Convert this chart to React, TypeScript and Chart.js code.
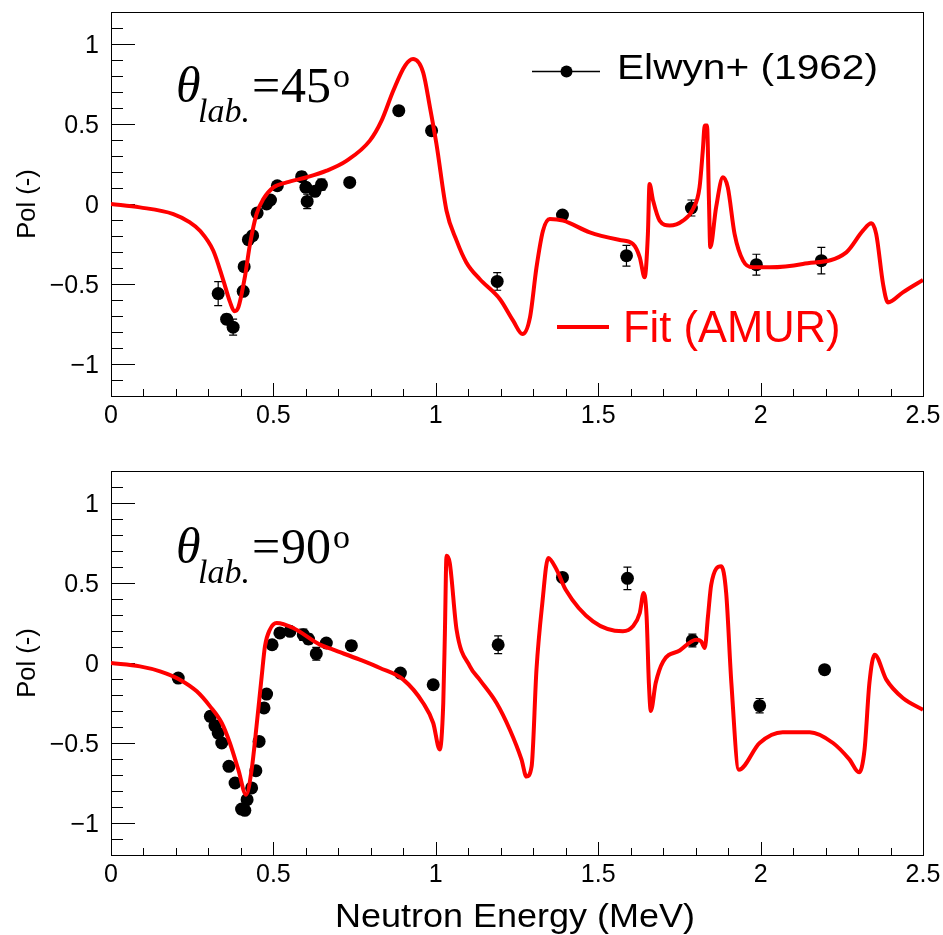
import React, { useEffect, useRef } from 'react';
import { Chart, registerables } from 'chart.js';

Chart.register(...registerables);

// ---- axes ----
const X_MIN = 0;
const X_MAX = 2.5;
const Y_MIN = -1.2;
const Y_MAX = 1.2;
const X_TICKS = [0, 0.5, 1, 1.5, 2, 2.5];
const X_TICK_LABELS = ['0', '0.5', '1', '1.5', '2', '2.5'];
const Y_TICKS = [-1, -0.5, 0, 0.5, 1];
const Y_TICK_LABELS = ['\u22121', '\u22120.5', '0', '0.5', '1'];
const MINOR_STEP = 0.1;

const X_TITLE = 'Neutron Energy (MeV)';
const Y_TITLE = 'Pol (-)';
const DATA_LABEL = 'Elwyn+ (1962)';
const FIT_LABEL = 'Fit (AMUR)';

// ---- theta_lab = 45 deg: measured polarization ----
const E45 = [0.330, 0.356, 0.376, 0.407, 0.410, 0.423, 0.436, 0.450, 0.479, 0.491, 0.512, 0.587, 0.600, 0.604, 0.628, 0.648, 0.735, 0.886, 0.987, 1.189, 1.390, 1.587, 1.787, 1.987, 2.187];
const P45 = [-0.560, -0.720, -0.770, -0.546, -0.392, -0.223, -0.198, -0.056, 0.000, 0.025, 0.114, 0.171, 0.104, 0.016, 0.079, 0.121, 0.135, 0.583, 0.458, -0.484, -0.069, -0.323, -0.025, -0.379, -0.354];
const DP45 = [0.075, 0.030, 0.050, 0.020, 0.020, 0.020, 0.020, 0.020, 0.020, 0.020, 0.020, 0.030, 0.030, 0.045, 0.030, 0.035, 0.020, 0.020, 0.020, 0.055, 0.020, 0.065, 0.050, 0.065, 0.083];

// ---- theta_lab = 45 deg: AMUR fit ----
const FIT45_E = [0, 0.089, 0.192, 0.243, 0.274, 0.315, 0.346, 0.366, 0.380, 0.392, 0.412, 0.428, 0.448, 0.469, 0.500, 0.541, 0.603, 0.664, 0.726, 0.797, 0.833, 0.869, 0.905, 0.930, 0.961, 0.982, 1.002, 1.033, 1.064, 1.094, 1.135, 1.197, 1.238, 1.267, 1.290, 1.310, 1.330, 1.351, 1.392, 1.474, 1.566, 1.607, 1.628, 1.643, 1.653, 1.658, 1.669, 1.689, 1.720, 1.761, 1.792, 1.812, 1.822, 1.828, 1.835, 1.841, 1.845, 1.863, 1.884, 1.899, 1.920, 1.946, 1.976, 2.028, 2.130, 2.264, 2.315, 2.341, 2.356, 2.377, 2.392, 2.438, 2.500];
const FIT45_P = [0, -0.021, -0.063, -0.115, -0.167, -0.292, -0.479, -0.610, -0.670, -0.646, -0.458, -0.250, -0.063, 0.031, 0.104, 0.135, 0.167, 0.208, 0.271, 0.396, 0.521, 0.708, 0.864, 0.906, 0.823, 0.604, 0.375, -0.042, -0.229, -0.365, -0.469, -0.594, -0.729, -0.813, -0.708, -0.396, -0.167, -0.094, -0.104, -0.177, -0.225, -0.250, -0.333, -0.458, -0.188, 0.125, 0.021, -0.104, -0.135, -0.104, -0.031, 0.104, 0.333, 0.490, 0.490, 0.021, -0.271, -0.021, 0.167, 0.104, -0.188, -0.354, -0.396, -0.396, -0.375, -0.302, -0.167, -0.121, -0.188, -0.500, -0.615, -0.552, -0.475];

// ---- theta_lab = 90 deg: measured polarization ----
const E90 = [0.207, 0.306, 0.320, 0.330, 0.341, 0.363, 0.382, 0.402, 0.412, 0.419, 0.433, 0.446, 0.456, 0.471, 0.479, 0.496, 0.520, 0.551, 0.592, 0.608, 0.632, 0.663, 0.740, 0.891, 0.992, 1.192, 1.390, 1.590, 1.790, 1.997, 2.197];
const P90 = [-0.094, -0.333, -0.392, -0.438, -0.500, -0.646, -0.750, -0.913, -0.921, -0.854, -0.781, -0.673, -0.490, -0.281, -0.194, 0.114, 0.188, 0.198, 0.177, 0.150, 0.058, 0.125, 0.108, -0.063, -0.136, 0.114, 0.535, 0.529, 0.141, -0.267, -0.042];
const DP90 = [0.020, 0.030, 0.020, 0.020, 0.020, 0.020, 0.020, 0.020, 0.020, 0.020, 0.020, 0.020, 0.020, 0.020, 0.020, 0.020, 0.020, 0.020, 0.035, 0.030, 0.040, 0.020, 0.030, 0.020, 0.020, 0.055, 0.025, 0.070, 0.040, 0.045, 0.020];

// ---- theta_lab = 90 deg: AMUR fit ----
const FIT90_E = [0, 0.089, 0.151, 0.212, 0.264, 0.305, 0.341, 0.366, 0.392, 0.416, 0.433, 0.448, 0.464, 0.474, 0.489, 0.510, 0.561, 0.643, 0.684, 0.766, 0.828, 0.900, 0.961, 0.992, 1.012, 1.023, 1.028, 1.033, 1.043, 1.064, 1.105, 1.135, 1.187, 1.228, 1.264, 1.279, 1.295, 1.310, 1.328, 1.346, 1.372, 1.400, 1.484, 1.576, 1.607, 1.628, 1.640, 1.649, 1.656, 1.662, 1.677, 1.700, 1.751, 1.802, 1.817, 1.828, 1.838, 1.848, 1.879, 1.894, 1.910, 1.933, 1.997, 2.068, 2.151, 2.223, 2.274, 2.303, 2.320, 2.335, 2.351, 2.387, 2.438, 2.500];
const FIT90_P = [0, -0.021, -0.052, -0.104, -0.177, -0.271, -0.375, -0.500, -0.667, -0.823, -0.667, -0.396, -0.083, 0.104, 0.208, 0.250, 0.219, 0.115, 0.083, 0.021, -0.031, -0.104, -0.250, -0.375, -0.540, -0.250, 0.188, 0.670, 0.625, 0.208, -0.021, -0.104, -0.250, -0.417, -0.604, -0.710, -0.646, -0.040, 0.375, 0.656, 0.583, 0.458, 0.260, 0.198, 0.229, 0.313, 0.438, 0.292, -0.125, -0.300, -0.125, 0.010, 0.078, 0.146, 0.135, 0.094, 0.292, 0.490, 0.604, 0.438, -0.125, -0.667, -0.500, -0.433, -0.433, -0.500, -0.604, -0.683, -0.542, -0.125, 0.052, -0.104, -0.219, -0.292];

const SANS = '"Liberation Sans", Arial, Helvetica, sans-serif';
const SERIF = '"Liberation Serif", "Times New Roman", serif';
const RED = '#ff0000';

const pts = (xs: number[], ys: number[]) => xs.map((x, i) => ({ x, y: ys[i] }));

// draws text squeezed/stretched horizontally to a given width
function fillStretched(ctx: CanvasRenderingContext2D, text: string, x: number, y: number, width: number, align: CanvasTextAlign) {
  const natural = ctx.measureText(text).width;
  ctx.save();
  ctx.translate(x, y);
  ctx.scale(width / natural, 1);
  ctx.textAlign = align;
  ctx.fillText(text, 0, 0);
  ctx.restore();
}

interface PanelProps {
  top: number;
  height: number;
  padBottom: number;
  angle: string;
  labelBase: number;
  E: number[];
  P: number[];
  DP: number[];
  fitE: number[];
  fitP: number[];
  legend: boolean;
  xTitle: boolean;
}

function Panel(props: PanelProps) {
  const ref = useRef<HTMLCanvasElement | null>(null);

  useEffect(() => {
    const canvas = ref.current;
    if (!canvas) return;
    const { E, P, DP, fitE, fitP, angle, labelBase, legend, xTitle } = props;

    // ROOT-style frame with inward ticks, error bars and annotations
    const frame = {
      id: 'rootFrame',
      beforeDatasetsDraw(chart: any) {
        const { ctx, chartArea: a } = chart;
        const xs = chart.scales.x;
        const ys = chart.scales.y;
        ctx.save();
        ctx.strokeStyle = '#000';
        ctx.lineWidth = 1;
        ctx.strokeRect(Math.round(a.left) + 0.5, Math.round(a.top) + 0.5, Math.round(a.right - a.left), Math.round(a.bottom - a.top));
        ctx.beginPath();
        for (let k = -11; k <= 11; k++) {
          const v = k * MINOR_STEP;
          const major = k % 5 === 0;
          const py = Math.round(ys.getPixelForValue(v)) + 0.5;
          ctx.moveTo(a.left, py);
          ctx.lineTo(a.left + (major ? 24 : 12), py);
        }
        for (let k = 1; k <= 24; k++) {
          const v = k * MINOR_STEP;
          const major = k % 5 === 0;
          const px = Math.round(xs.getPixelForValue(v)) + 0.5;
          ctx.moveTo(px, a.bottom);
          ctx.lineTo(px, a.bottom - (major ? 13 : 7));
        }
        ctx.stroke();

        // vertical error bars with end caps
        ctx.lineWidth = 1.2;
        ctx.beginPath();
        for (let i = 0; i < E.length; i++) {
          const px = xs.getPixelForValue(E[i]);
          const y1 = ys.getPixelForValue(P[i] + DP[i]);
          const y2 = ys.getPixelForValue(P[i] - DP[i]);
          ctx.moveTo(px, y1);
          ctx.lineTo(px, y2);
          ctx.moveTo(px - 4, y1);
          ctx.lineTo(px + 4, y1);
          ctx.moveTo(px - 4, y2);
          ctx.lineTo(px + 4, y2);
        }
        ctx.stroke();
        ctx.restore();
      },
      afterDatasetsDraw(chart: any) {
        const { ctx, chartArea: a } = chart;
        const xs = chart.scales.x;
        const ys = chart.scales.y;
        ctx.save();
        ctx.fillStyle = '#000';
        ctx.textBaseline = 'alphabetic';

        // tick labels
        ctx.font = `25px ${SANS}`;
        ctx.textAlign = 'right';
        Y_TICKS.forEach((v, i) => {
          ctx.fillText(Y_TICK_LABELS[i], 99, ys.getPixelForValue(v) + 9);
        });
        ctx.textAlign = 'center';
        X_TICKS.forEach((v, i) => {
          ctx.fillText(X_TICK_LABELS[i], xs.getPixelForValue(v), a.bottom + 27);
        });

        // y title
        ctx.save();
        ctx.translate(35, (a.top + a.bottom) / 2);
        ctx.rotate(-Math.PI / 2);
        ctx.font = `25.5px ${SANS}`;
        ctx.textAlign = 'center';
        ctx.fillText(Y_TITLE, 0, 0);
        ctx.restore();

        // x title
        if (xTitle) {
          ctx.font = `33px ${SANS}`;
          fillStretched(ctx, X_TITLE, 515, a.bottom + 72, 360, 'center');
        }

        // theta_lab label
        ctx.textAlign = 'left';
        ctx.font = `italic 50px ${SERIF}`;
        ctx.fillText('\u03b8', 176, labelBase);
        ctx.font = `italic 34px ${SERIF}`;
        ctx.fillText('lab.', 198, labelBase + 20);
        ctx.font = `50px ${SERIF}`;
        ctx.fillText('=', 252, labelBase);
        ctx.fillText(angle, 281, labelBase);
        const w = ctx.measureText(angle).width;
        ctx.font = `34px ${SERIF}`;
        ctx.fillText('o', 281 + w + 2, labelBase - 15);

        // legend entries
        if (legend) {
          ctx.strokeStyle = '#000';
          ctx.lineWidth = 1.3;
          ctx.beginPath();
          ctx.moveTo(532, 71.5);
          ctx.lineTo(600, 71.5);
          ctx.stroke();
          ctx.beginPath();
          ctx.arc(566.5, 71.5, 6, 0, Math.PI * 2);
          ctx.fill();
          ctx.font = `35px ${SANS}`;
          fillStretched(ctx, DATA_LABEL, 617, 79, 261, 'left');

          ctx.strokeStyle = RED;
          ctx.lineWidth = 4;
          ctx.beginPath();
          ctx.moveTo(557, 327);
          ctx.lineTo(609, 327);
          ctx.stroke();
          ctx.fillStyle = RED;
          ctx.font = `43.5px ${SANS}`;
          ctx.fillText(FIT_LABEL, 623, 341.5);
        }
        ctx.restore();
      },
    };

    const chart = new Chart(canvas, {
      type: 'scatter',
      data: {
        datasets: [
          {
            label: FIT_LABEL,
            data: pts(fitE, fitP),
            showLine: true,
            borderColor: RED,
            borderWidth: 4,
            pointRadius: 0,
            cubicInterpolationMode: 'monotone',
            order: 0,
          },
          {
            label: DATA_LABEL,
            data: pts(E, P),
            showLine: false,
            pointRadius: 6.5,
            pointBackgroundColor: '#000',
            pointBorderWidth: 0,
            order: 1,
          },
        ],
      },
      options: {
        responsive: false,
        animation: false,
        events: [],
        layout: { padding: { left: 111, right: 20, top: 12, bottom: props.padBottom } },
        plugins: { legend: { display: false }, tooltip: { enabled: false }, title: { display: false } },
        scales: {
          x: { type: 'linear', min: X_MIN, max: X_MAX, display: false },
          y: { type: 'linear', min: Y_MIN, max: Y_MAX, display: false },
        },
      },
      plugins: [frame],
    } as any);
    return () => chart.destroy();
  }, []);

  return (
    <canvas
      ref={ref}
      width={943}
      height={props.height}
      style={{ position: 'absolute', left: 0, top: props.top, display: 'block' }}
    />
  );
}

export default function App() {
  return (
    <div style={{ position: 'absolute', left: 0, top: 0, width: 943, height: 935, background: '#fff' }}>
      <Panel top={0} height={450} padBottom={54} angle="45" labelBase={101.5}
        E={E45} P={P45} DP={DP45} fitE={FIT45_E} fitP={FIT45_P} legend={true} xTitle={false} />
      <Panel top={459} height={476} padBottom={80} angle="90" labelBase={104}
        E={E90} P={P90} DP={DP90} fitE={FIT90_E} fitP={FIT90_P} legend={false} xTitle={true} />
    </div>
  );
}
